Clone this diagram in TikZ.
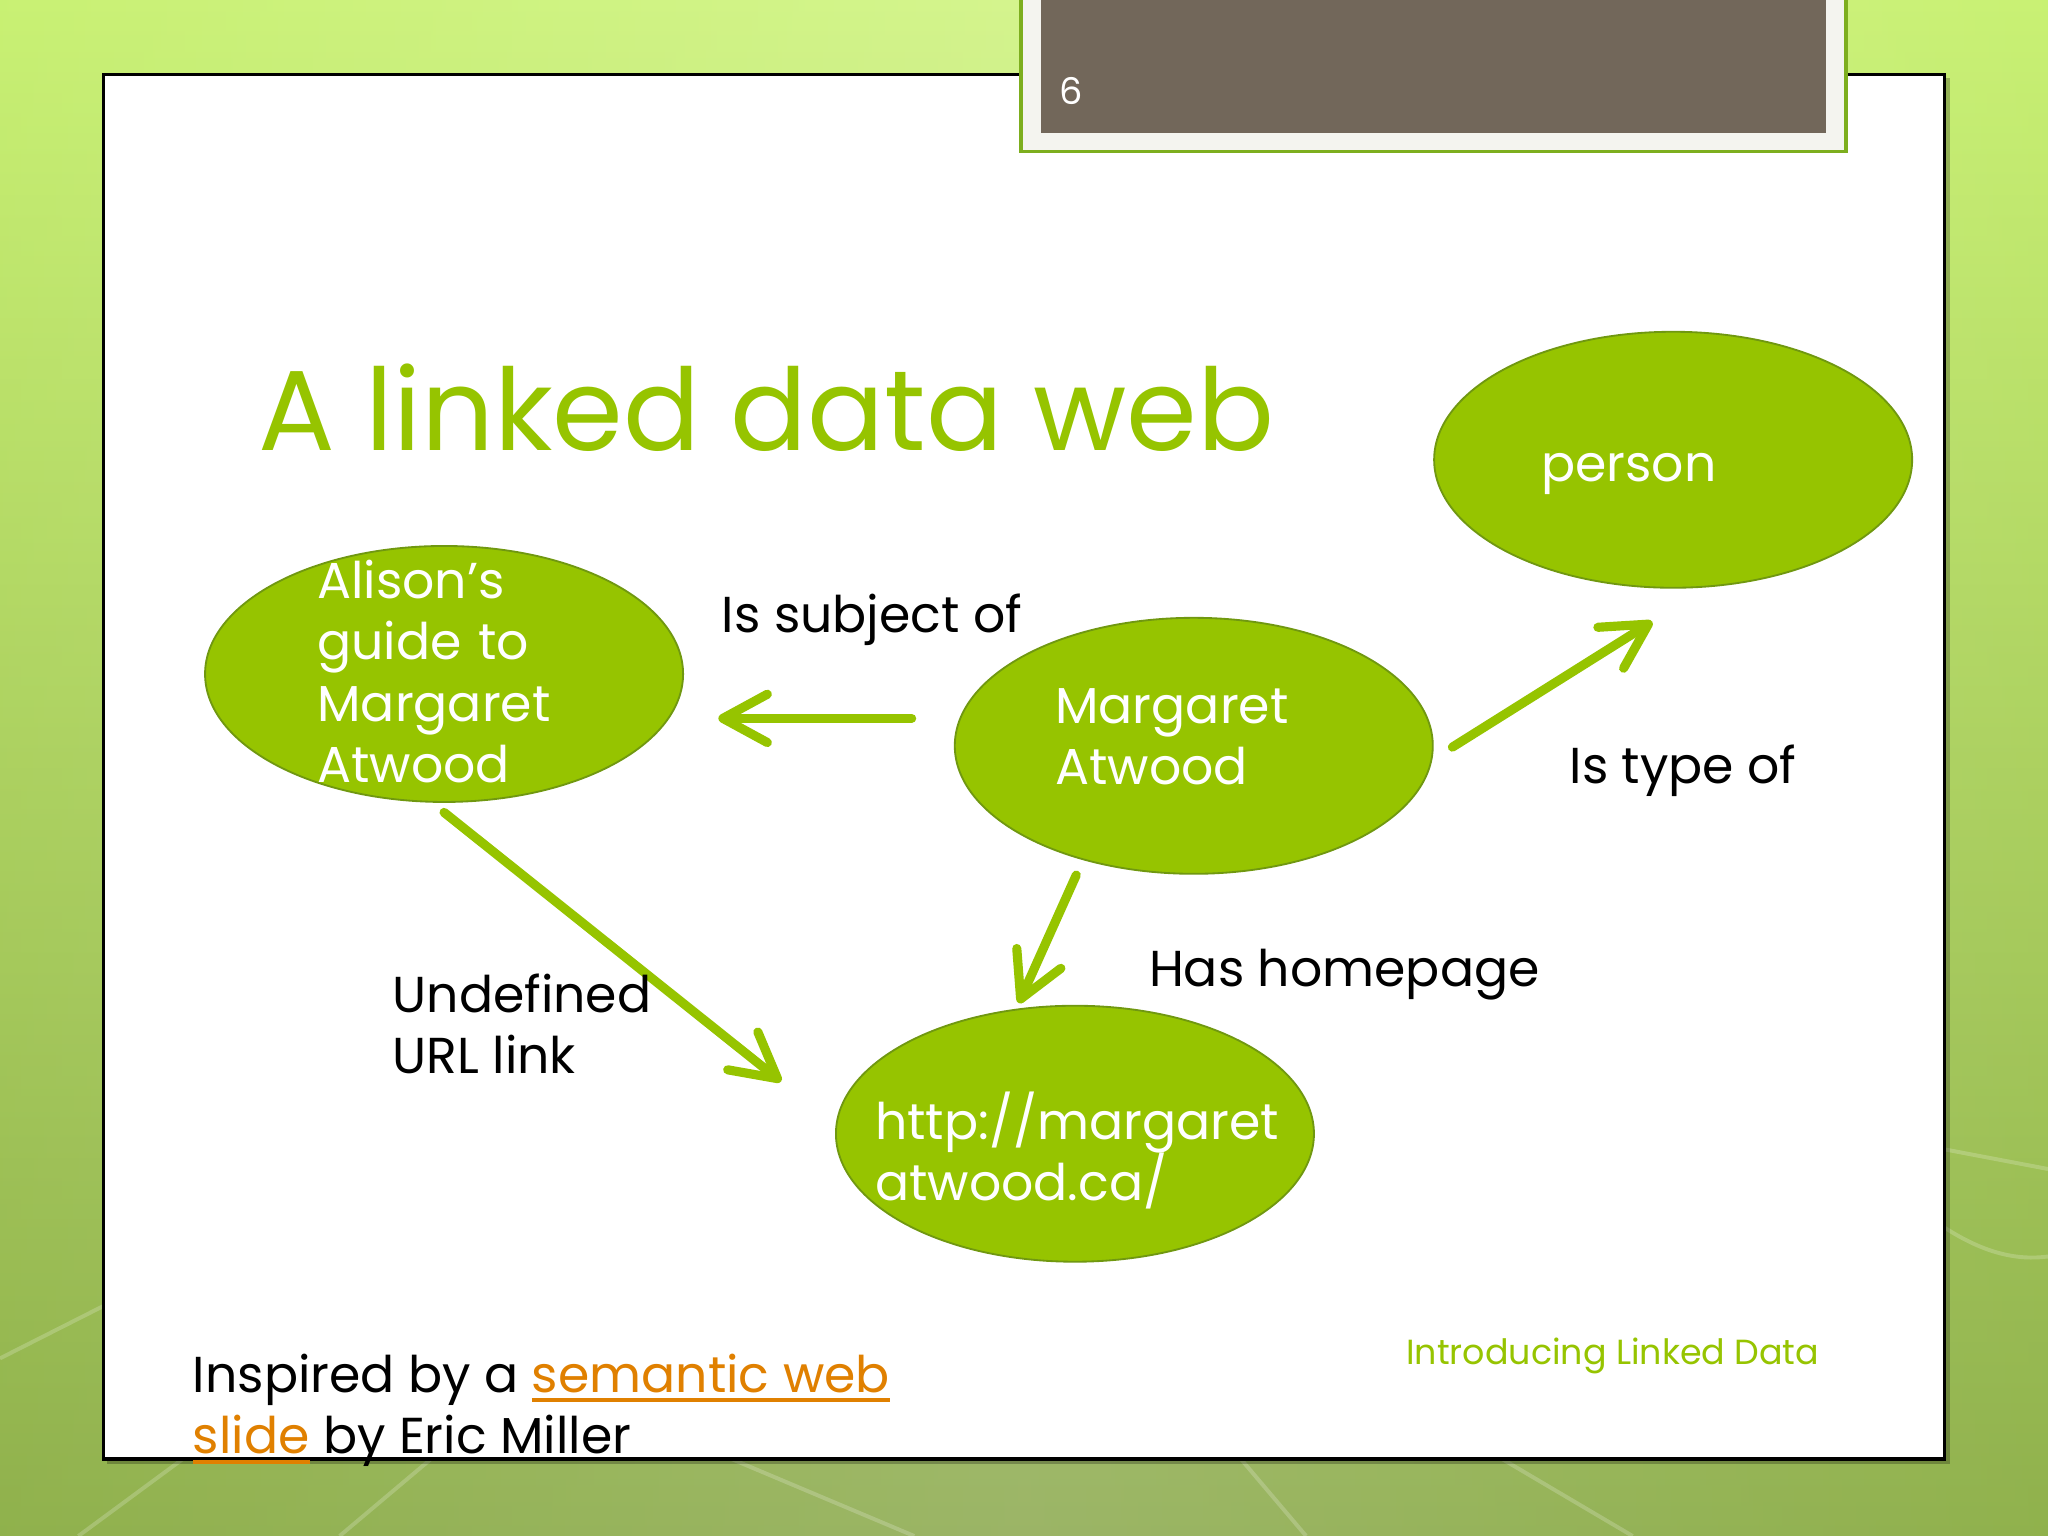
\documentclass[tikz,border=0pt]{standalone}
\usepackage{fontspec}
\setmainfont{Poppins}
\usetikzlibrary{arrows.meta,shapes.geometric}
\definecolor{leaf}{RGB}{150,196,0}
\definecolor{leafdark}{RGB}{112,152,16}
\definecolor{linkorange}{RGB}{224,128,0}
\definecolor{slatebox}{RGB}{114,103,90}
\definecolor{framegreen}{RGB}{125,174,30}
\newcommand\linkul[1]{\textcolor{linkorange}{\setbox0\hbox{#1}\rlap{\rule[-2.2pt]{\wd0}{0.9pt}}\box0}}

\begin{document}
\begin{tikzpicture}[x=0.1mm, y=-0.1mm,
  blob/.style={ellipse, draw=leafdark, line width=0.4pt, fill=leaf, inner sep=0pt,
    minimum width=36.6mm, minimum height=19.6mm},
  blobtext/.style={text=white, align=left, inner sep=0pt,
    font=\fontsize{11}{13.4}\selectfont},
  edgetext/.style={anchor=base west, align=left, inner sep=0pt,
    font=\fontsize{11}{13.4}\selectfont},
  link/.style={draw=leaf, line width=0.7mm, line cap=round,
    -{Straight Barb[length=3.4mm, width=3.7mm, line cap=round, line join=round]}}]
  \useasboundingbox (0,0) rectangle (1568,1176);
  \clip (0,0) rectangle (1568,1176);
  % background and slide panel
  \shade[top color={rgb,255:red,205;green,243;blue,122}, bottom color={rgb,255:red,138;green,168;blue,76}]
    (0,0) rectangle (1568,1176);
  \shade[left color={rgb,255:red,178;green,230;blue,80}, right color={rgb,255:red,178;green,230;blue,80}, middle color=white, opacity=0.15]
    (0,0) rectangle (1568,1176);
  \draw[white, opacity=0.2, line width=0.3mm]
    (0,1040) -- (79,1000) (60,1176) -- (140,1117) (260,1176) -- (330,1117)
    (560,1117) -- (700,1176) (950,1117) -- (1000,1176) (1150,1117) -- (1250,1176)
    (1489,880) -- (1568,895) (1489,940) .. controls (1520,960) and (1545,965) .. (1568,962);
  \fill[black, opacity=0.25] (82,60) rectangle (1493,1121);
  \draw[fill=white, line width=0.25mm] (79,57) rectangle (1489,1117);
  \draw[fill={rgb,255:red,244;green,244;blue,239}, draw=framegreen, line width=0.3mm] (782,-10) rectangle (1413,116);
  \fill[slatebox] (797,-10) rectangle (1398,102);
  \node[text=white, font=\fontsize{8}{9}\selectfont] (pagenum) at (820,70) {6};
  % title
  \node[anchor=base west, inner sep=0pt, text=leaf, font=\fontsize{24.8}{28}\selectfont] (title) at (197,345) {A linked data web};
  % resources
  \node[blob, label={[blobtext, text width=19.4mm, yshift=0.2mm]center:{Alison’s\\guide to\\Margaret\\Atwood}}] (guide) at (340,516) {};
  \node[blob, label={[blobtext, text width=21.2mm, yshift=0.7mm]center:{Margaret\\Atwood}}] (atwood) at (914,571) {};
  \node[blob, label={[blobtext, text width=20.2mm, yshift=-1.1mm]center:{person}}] (person) at (1281,352) {};
  \node[blob, label={[blobtext, text width=30.6mm, yshift=-1.3mm]center:{http://margaret\\atwood.ca/}}] (homepage) at (823,868) {};
  % links
  \coordinate (subjS) at (698,550);
  \coordinate (subjE) at (550,550);
  \coordinate (undefS) at (340,622);
  \coordinate (undefE) at (598,828);
  \coordinate (homeS) at (824,670);
  \coordinate (homeE) at (780,768);
  \coordinate (typeS) at (1112,572);
  \coordinate (typeE) at (1265,476);
  \draw[link] (subjS) -- (subjE);
  \draw[link] (undefS) -- (undefE);
  \draw[link] (homeS) -- (homeE);
  \draw[link] (typeS) -- (typeE);
  \node[edgetext] (subjof) at (552,484) {Is subject of};
  \node[edgetext] (typeof) at (1201,600) {Is type of};
  \node[edgetext] (hashome) at (879,755) {Has homepage};
  \node[edgetext] (undef) at (300,822) {Undefined\\URL link};
  % footer
  \node[edgetext] (credit) at (147,1113) {Inspired by a \linkul{semantic web}\\\linkul{slide} by Eric Miller};
  \node[anchor=base west, inner sep=0pt, text=leaf, font=\fontsize{7.6}{9}\selectfont] (footer) at (1076,1045) {Introducing Linked Data};
\end{tikzpicture}
\end{document}
